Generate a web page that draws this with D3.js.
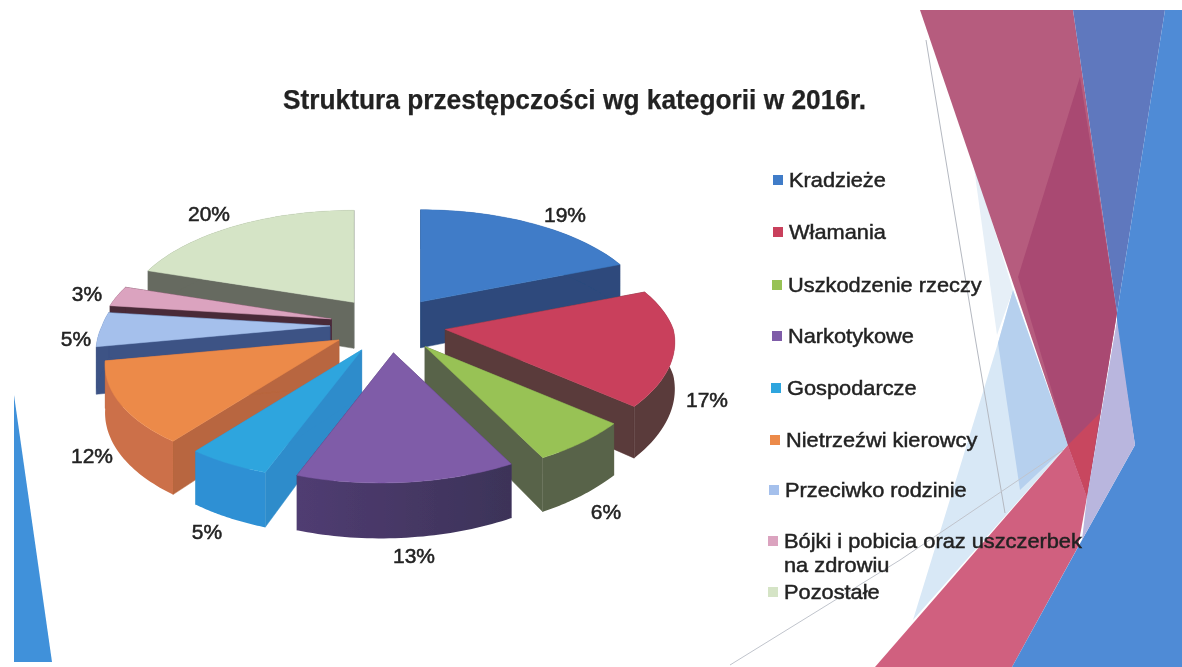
<!DOCTYPE html>
<html><head><meta charset="utf-8">
<script src="https://cdn.jsdelivr.net/npm/d3@7"></script>
<style>html,body{margin:0;padding:0;background:#fff;overflow:hidden}svg{display:block}
text{font-family:"Liberation Sans",Arial,sans-serif;fill:#222}</style></head><body>
<script>
const title = "Struktura przestępczości wg kategorii w 2016r.";
const categories = ["Kradzieże","Włamania","Uszkodzenie rzeczy","Narkotykowe","Gospodarcze","Nietrzeźwi kierowcy","Przeciwko rodzinie","Bójki i pobicia oraz uszczerbek na zdrowiu","Pozostałe"];
const values = [19,17,6,13,5,12,5,3,20];
const topColors = ["#3f7cc8","#c9405c","#98c255","#7f5ba8","#2ea5de","#ec8a4a","#a5c0ec","#dba3bf","#d5e4c6"];
const wallColors = ["#2d4a7c","#5a3a3a","#596348","#463563","#2f90d4","#cc7048","#3c5285","#4a2a38","#666a60"];
const cutColors = ["#2d4a7c","#5a3a3a","#596348","#463563","#2f8ccb","#b8663f","#3c5285","#4a2a38","#666a60"];
const paintOrder = [0,8,7,6,1,5,2,4,3];

const W=1182,H=667;
const svg=d3.select("body").append("svg").attr("width",W).attr("height",H);
const defs=svg.append("defs");
const f=defs.append("filter").attr("id","soft").attr("x","-5%").attr("y","-5%").attr("width","110%").attr("height","110%");
f.append("feGaussianBlur").attr("stdDeviation",0.7);
const g0=svg.append("g").attr("filter","url(#soft)");

// --- slide background facets
const bg=g0.append("g");
const poly=(pts,fill,op=1)=>bg.append("polygon").attr("points",pts.join(" ")).attr("fill",fill).attr("opacity",op);
poly([[14,395],[52,662],[14,662]],"#3f91da");
poly([[973,160],[1013,290],[997,335]],"#e6eff7");
poly([[998,343],[1013,290],[1068,445],[913,620]],"#d8e8f6");
poly([[1013,290],[1068,445],[1020,490],[998,343]],"#b6d0ee");
poly([[920,10],[1073,10],[1117,313],[1087,497],[1068,445]],"#b65c7e");
poly([[1080,77],[1117,313],[1087,497],[1068,445],[1018,277]],"#a94a72");
poly([[1073,10],[1165,10],[1117,313]],"#5f78be");
poly([[1068,445],[1087,497],[1078,547],[1012,667],[875,667]],"#d0607f");
poly([[1068,445],[1100,413],[1087,497]],"#c8465f");
poly([[1165,10],[1182,10],[1182,667],[1012,667],[1082,540],[1135,445],[1117,330],[1117,313]],"#4f8bd6");
poly([[1117,320],[1135,445],[1082,540],[1087,497]],"#b9b6de");
const ln=(pts,c,w=1)=>bg.append("polyline").attr("points",pts.join(" ")).attr("fill","none").attr("stroke",c).attr("stroke-width",w);
ln([[926,40],[975,337],[1005,513]],"#b4b8c0");
ln([[1063,450],[900,560],[730,665]],"#c0c4cc");

// --- 3D exploded pie
const cx=388, cy=325, R=228, Ry=107.8, persp=0.171, shear=13, explodeX=58, explodeY=28, depth=46;
const xS=d3.scaleLinear().domain([-1,1]).range([-R,R]);
const yS=d3.scaleLinear().domain([-1,1]).range([-Ry,Ry]);
const arcs=d3.pie().sort(null)(values);
const pos=(a,th,down)=>{
  const mid=(a.startAngle+a.endAngle)/2;
  const ax=cx+explodeX*Math.sin(mid), ay=cy-explodeY*Math.cos(mid);
  const X=Math.sin(th), Z=-Math.cos(th), s=1/(1-persp*Z);
  return [ax+xS(X)*s-shear*Math.max(Z,0), ay+yS(Z)*s+(down?depth*s:0)];
};
const apex=(a,down)=>{
  const mid=(a.startAngle+a.endAngle)/2;
  return [cx+explodeX*Math.sin(mid), cy-explodeY*Math.cos(mid)+(down?depth:0)];
};
const line=d3.line();
const pie=g0.append("g");
const gp=defs.append("linearGradient").attr("id","pw").attr("x1",0).attr("x2",1).attr("y1",0).attr("y2",0);
gp.append("stop").attr("offset",0).attr("stop-color","#503c72");
gp.append("stop").attr("offset",1).attr("stop-color","#3c3358");
paintOrder.forEach(i=>{
  const a=arcs[i];
  const ths=d3.range(0,41).map(k=>a.startAngle+(a.endAngle-a.startAngle)*k/40);
  const g=pie.append("g");
  const wall=i===3?"url(#pw)":wallColors[i];
  [a.startAngle,a.endAngle].forEach(t=>{
    const q=[apex(a,false),pos(a,t,false),pos(a,t,true),apex(a,true)];
    g.append("path").attr("d",line(q)+"Z").attr("fill",cutColors[i]).attr("stroke",cutColors[i]).attr("stroke-width",.5);
  });
  const o=ths.map(t=>pos(a,t,false)).concat(ths.slice().reverse().map(t=>pos(a,t,true)));
  g.append("path").attr("d",line(o)+"Z").attr("fill",wall);
  const top=[apex(a,false)].concat(ths.map(t=>pos(a,t,false)));
  g.append("path").attr("d",line(top)+"Z").attr("fill",topColors[i]).attr("stroke",topColors[i]).attr("stroke-width",.5);
});

// --- text
const smear=(s,w)=>s.attr("stroke","#222").attr("stroke-width",w);
smear(g0.append("text").attr("x",283).attr("y",109).attr("font-size",27).attr("font-weight","bold")
  .attr("textLength",583).attr("lengthAdjust","spacingAndGlyphs").text(title),0.25);
const pctX=[565,707,606,414,207,92,76,87,209], pctY=[215,400,512,556,532,456,339,294,214];
values.forEach((v,i)=>{
  smear(g0.append("text").attr("transform",`translate(${pctX[i]},${pctY[i]}) scale(1.05,1)`).attr("dy","0.35em").attr("text-anchor","middle")
    .attr("font-size",20).text(v+"%"),0.5);
});
const legY=[180,232,285,336,388,440,490,541,592];
const legX=[789,789,788,788,787,786,785,784,784];
const legLines=[["Kradzieże"],["Włamania"],["Uszkodzenie rzeczy"],["Narkotykowe"],["Gospodarcze"],["Nietrzeźwi kierowcy"],["Przeciwko rodzinie"],["Bójki i pobicia oraz uszczerbek","na zdrowiu"],["Pozostałe"]];
categories.forEach((c,i)=>{
  g0.append("rect").attr("x",legX[i]-16).attr("y",legY[i]-5).attr("width",10).attr("height",10).attr("fill",topColors[i]);
  legLines[i].forEach((t,k)=>{
    smear(g0.append("text").attr("transform",`translate(${legX[i]},${legY[i]+k*24}) scale(1.09,1)`).attr("dy","0.35em").attr("font-size",20).text(t),0.45);
  });
});
</script></body></html>
